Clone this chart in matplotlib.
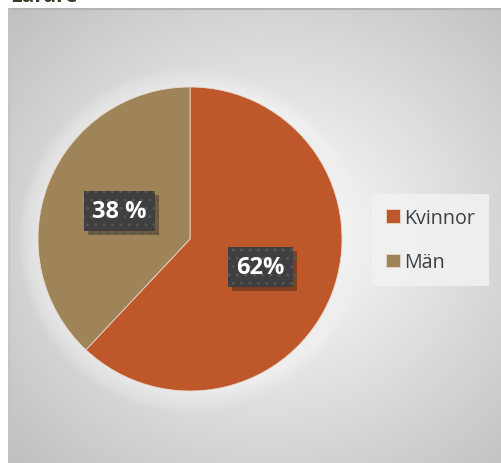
import numpy as np
import matplotlib
matplotlib.use('Agg')
import matplotlib.pyplot as plt
import matplotlib.patheffects as pe
from matplotlib.patches import Circle

# =Data
title = 'Lärare'
names = ['Kvinnor', 'Män']
values = [62, 38]
pct_labels = ['62%', '38 %']
colors = ['#BE582B', '#9E8458']

W, H = 501, 464
fig = plt.figure(figsize=(W / 100, H / 100), dpi=100)
fig.patch.set_facecolor('white')

# chart area box (pixels from top-left)
x0, y0 = 8, 9
bw, bh = W - x0, H - y0
bg = fig.add_axes([x0 / W, 0, bw / W, bh / H])
yy, xx = np.mgrid[0:bh, 0:bw]
cx, cy = 270 - x0, 236 - y0
d = np.sqrt((xx - cx) ** 2 + (1.1 * (yy - cy)) ** 2) / 250
grad = 255 - 44 * np.clip(d, 0, 1.5)
grad = np.clip(grad, 190, 255) / 255
bg.imshow(np.dstack([grad] * 3), aspect='auto', extent=(0, bw, bh, 0))
bg.plot([0, bw], [0.8, 0.8], color='#b4b4b4', lw=1.5)
bg.plot([0.6, 0.6], [0, bh], color='#c4c4c4', lw=1)
bg.set_xlim(0, bw)
bg.set_ylim(bh, 0)
bg.axis('off')

# title, mostly cut off at the top
fig.text(10 / W, 1 - 2.5 / H, title, ha='left', va='baseline',
         fontsize=15, fontweight='bold', color='#3d3828', family='Open Sans')

# pie axes: center (190, 240), radius 152
r = 152
ax = fig.add_axes([(190 - r) / W, 1 - (240 + r) / H, 2 * r / W, 2 * r / H])

# soft white glow round the pie
for i in range(12):
    ax.add_patch(Circle((0.0, -0.01), 1.0 + 0.012 * i, color='white',
                        alpha=0.06, lw=0, zorder=0, clip_on=False))

wedges, texts = ax.pie(values, colors=colors, startangle=90, counterclock=False,
                       labels=pct_labels, labeldistance=0.5,
                       wedgeprops=dict(edgecolor='#e8d8c8', linewidth=0.6),
                       textprops=dict(color='white', fontsize=17, fontweight='bold',
                                      family='Open Sans', ha='center', va='center'))
for t in texts:
    t.set_bbox(dict(boxstyle='square,pad=0.35', fc='#3f3f3f', ec='#555555',
                    lw=0, hatch='..'))
    t.get_bbox_patch().set_path_effects(
        [pe.SimplePatchShadow(offset=(3, -3), shadow_rgbFace='black', alpha=0.3),
         pe.Normal()])
ax.set_xlim(-1, 1)
ax.set_ylim(-1, 1)
ax.set_aspect('equal')

# legend
leg = fig.legend(wedges, names, loc='upper left',
                 bbox_to_anchor=(372 / W, 1 - 195 / H),
                 frameon=True, fancybox=False, framealpha=0.85,
                 facecolor='#f2f2f2', edgecolor='none',
                 handlelength=0.7, handleheight=0.7, handletextpad=0.25,
                 labelspacing=1.25, borderpad=0.7, borderaxespad=0,
                 prop=dict(family='Open Sans', size=14.2))
for txt in leg.get_texts():
    txt.set_color('#404040')

fig.savefig('out.png', dpi=100)
